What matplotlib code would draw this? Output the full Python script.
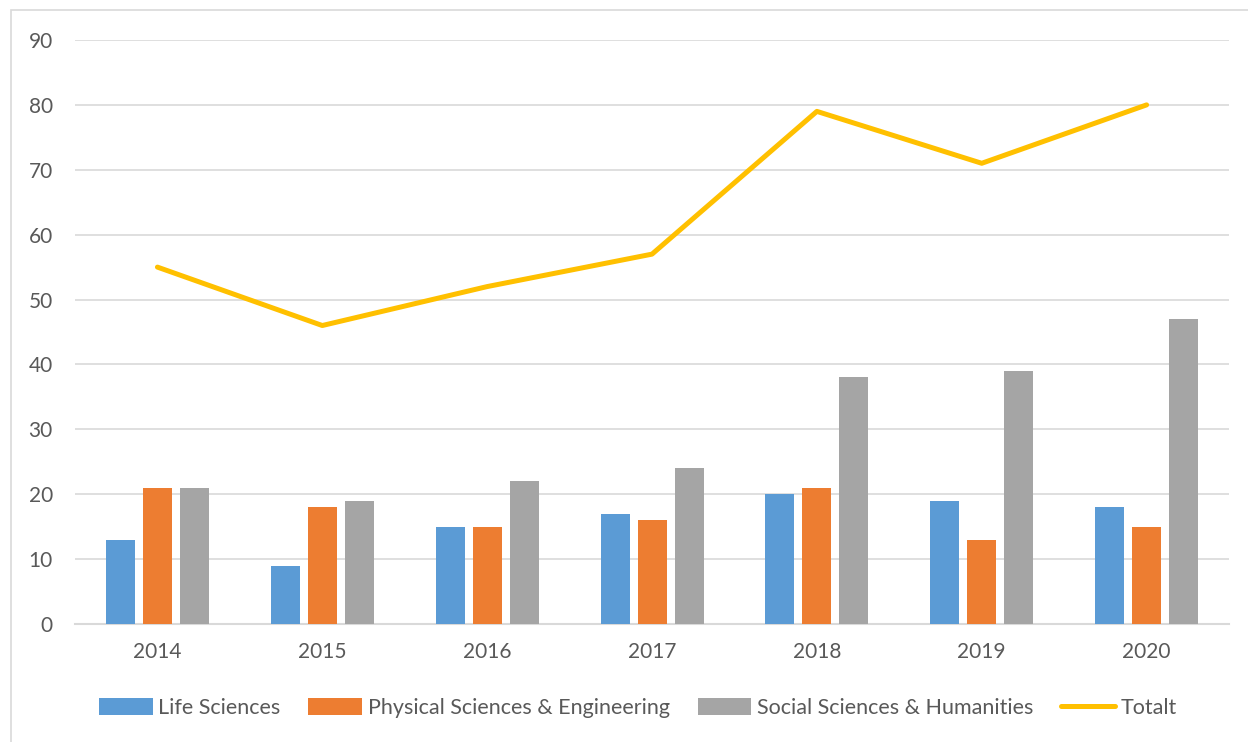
import matplotlib.pyplot as plt
import numpy as np
from matplotlib.patches import Rectangle

years = ["2014", "2015", "2016", "2017", "2018", "2019", "2020"]
life = [13, 9, 15, 17, 20, 19, 18]
physical = [21, 18, 15, 16, 21, 13, 15]
social = [21, 19, 22, 24, 38, 39, 47]
total = [55, 46, 52, 57, 79, 71, 80]

plt.rcParams["font.family"] = ["Lato", "DejaVu Sans"]
text_col = "#595959"
grid_col = "#D9D9D9"

fig = plt.figure(figsize=(12.48, 7.42), dpi=100)
ax = fig.add_axes([0.0601, 0.159, 0.9247, 0.7871])

# outer chart border (only left/top visible in the reference)
fig.patches.append(Rectangle((11 / 1248, -0.1), 1.2, 1.1 - 10 / 742,
                             transform=fig.transFigure, fill=False,
                             edgecolor=grid_col, linewidth=1.2))

x = np.arange(len(years))
step = 0.2244
width = 0.176
b1 = ax.bar(x - step, life, width, color="#5B9BD5", label="Life Sciences", zorder=3)
b2 = ax.bar(x, physical, width, color="#ED7D31", label="Physical Sciences & Engineering", zorder=3)
b3 = ax.bar(x + step, social, width, color="#A5A5A5", label="Social Sciences & Humanities", zorder=3)
ln, = ax.plot(x, total, color="#FFC000", linewidth=3.6, solid_capstyle="round",
              solid_joinstyle="round", label="Totalt", zorder=4)

ax.set_xlim(-0.5, len(years) - 0.5)
ax.set_ylim(0, 90)
ax.set_yticks(range(0, 91, 10))
ax.set_xticks(x)
ax.set_xticklabels(years)
ax.yaxis.grid(True, color=grid_col, linewidth=1.2, zorder=0)
for s in ["top", "right", "left"]:
    ax.spines[s].set_visible(False)
ax.spines["bottom"].set_color(grid_col)
ax.spines["bottom"].set_linewidth(1.5)
ax.tick_params(axis="both", length=0, labelsize=15, colors=text_col)
ax.tick_params(axis="y", pad=16)
ax.tick_params(axis="x", pad=13)

fig.legend([b1, b2, b3, ln], [h.get_label() for h in (b1, b2, b3, ln)],
           loc="center", bbox_to_anchor=(0.511, 1 - 708 / 742), ncol=4,
           frameon=False, fontsize=15.5, labelcolor=text_col,
           handlelength=2.5, handleheight=0.8, handletextpad=0.25,
           columnspacing=1.3)

fig.savefig("out.png", dpi=100)
